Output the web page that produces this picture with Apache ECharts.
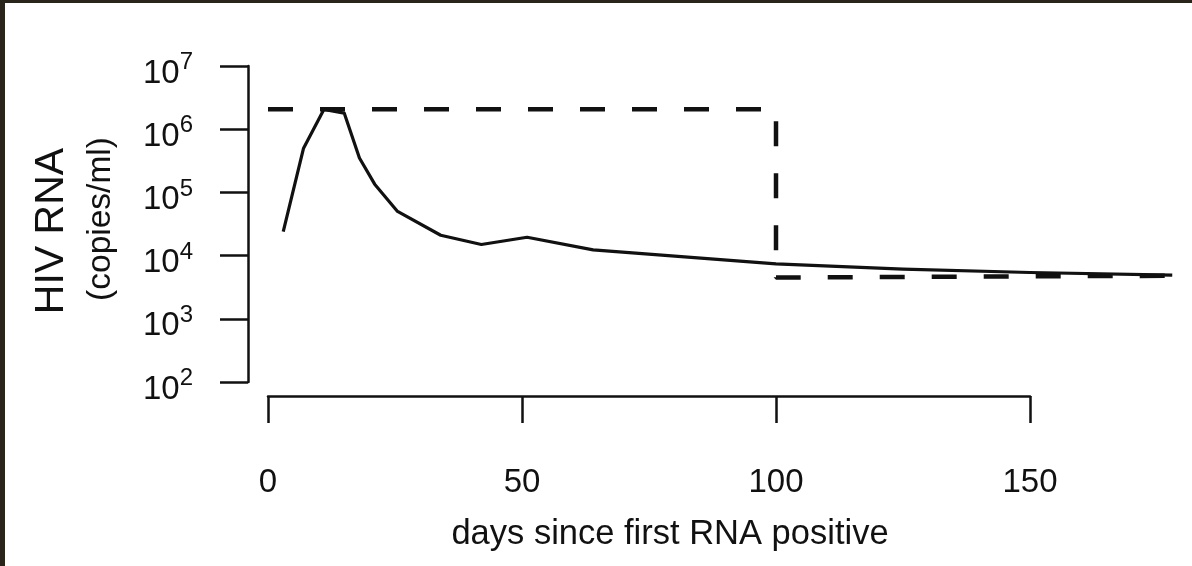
<!DOCTYPE html>
<html>
<head>
<meta charset="utf-8">
<title>HIV RNA</title>
<script src="https://cdn.jsdelivr.net/npm/echarts@6/dist/echarts.min.js"></script>
<style>
  html, body { margin: 0; padding: 0; background: #fff; }
  #chart { width: 1192px; height: 566px; }
</style>
</head>
<body>
<div id="chart"></div>
<script>
// viral load
const days = [3, 7, 11, 15, 18, 21, 25.5, 34, 42, 51, 64, 100, 125, 150, 178]
const rna = [2.4e4, 5.0e5, 2.05e6, 1.8e6, 3.5e5, 1.35e5, 5.0e4, 2.1e4, 1.5e4, 1.95e4, 1.23e4, 7.4e3, 6.1e3, 5.4e3, 4.9e3]

// dashed guide: peak level, then set point
const guideDays = [0, 100, 100, 178]
const guideRna = [2.07e6, 2.07e6, 4.5e3, 4.8e3]

const xTicks = [0, 50, 100, 150]

const FONT = '"Liberation Sans", Arial, Helvetica, sans-serif'
const INK = '#111'
const FRAME = '#29251a'

const pairs = (xs, ys) => xs.map((d, i) => [d, ys[i]])

const chart = echarts.init(document.getElementById('chart'))

const option = {
  animation: false,
  backgroundColor: '#fff',
  textStyle: { fontFamily: FONT },
  grid: [
    // data area, 5.08 px per day
    { left: 268, top: 66, width: 180 * 5.08, height: 316 },
    // just for the short x axis (0..150)
    { left: 268, top: 66, width: 150 * 5.08, height: 316 },
  ],
  xAxis: [
    { gridIndex: 0, type: 'value', min: 0, max: 180, show: false },
    {
      gridIndex: 1,
      type: 'value',
      min: 0,
      max: 150,
      interval: 50,
      offset: 14,
      axisLine: { show: true, onZero: false, lineStyle: { color: INK, width: 2.5 } },
      axisTick: { show: true, length: 27, lineStyle: { color: INK, width: 2.5 } },
      axisLabel: {
        margin: 70,
        fontSize: 33,
        color: INK,
        fontFamily: FONT,
        customValues: xTicks,
      },
      splitLine: { show: false },
    },
  ],
  yAxis: [
    {
      gridIndex: 0,
      type: 'log',
      logBase: 10,
      min: 1e2,
      max: 1e7,
      offset: 20,
      axisLine: { show: true, onZero: false, lineStyle: { color: INK, width: 2.5 } },
      axisTick: { show: true, length: 28, lineStyle: { color: INK, width: 2.5 } },
      axisLabel: {
        margin: 55,
        color: INK,
        fontFamily: FONT,
        formatter: v => '{b|10}{s|' + Math.round(Math.log10(v)) + '}',
        rich: {
          b: { fontSize: 33, lineHeight: 33, padding: [15, 0, 0, 0], fontFamily: FONT, color: INK },
          s: { fontSize: 24, lineHeight: 24, padding: [0, 0, 7, 0], fontFamily: FONT, color: INK },
        },
      },
      splitLine: { show: false },
    },
    { gridIndex: 1, type: 'log', min: 1e2, max: 1e7, show: false },
  ],
  graphic: [
    // dark frame on top and left edge
    { type: 'rect', left: 0, top: 0, shape: { width: 1192, height: 3 }, style: { fill: FRAME }, z: 100 },
    { type: 'rect', left: 0, top: 0, shape: { width: 5, height: 566 }, style: { fill: FRAME }, z: 100 },
    {
      type: 'text', x: 52, y: 231, rotation: Math.PI / 2,
      style: { text: 'HIV RNA', fontSize: 41, fontFamily: FONT, fill: INK, textAlign: 'center', textVerticalAlign: 'middle' },
    },
    {
      type: 'text', x: 101, y: 219, rotation: Math.PI / 2,
      style: { text: '(copies/ml)', fontSize: 33.5, fontFamily: FONT, fill: INK, textAlign: 'center', textVerticalAlign: 'middle' },
    },
    {
      type: 'text', x: 670, y: 534,
      style: { text: 'days since first RNA positive', fontSize: 34.5, fontFamily: FONT, fill: INK, textAlign: 'center', textVerticalAlign: 'middle' },
    },
  ],
  series: [
    {
      name: 'guide',
      type: 'line',
      xAxisIndex: 0,
      yAxisIndex: 0,
      data: pairs(guideDays, guideRna),
      showSymbol: false,
      symbol: 'none',
      lineStyle: { color: INK, width: 4.5, type: [25, 27], cap: 'butt' },
      silent: true,
    },
    {
      name: 'HIV RNA',
      type: 'line',
      xAxisIndex: 0,
      yAxisIndex: 0,
      data: pairs(days, rna),
      showSymbol: false,
      symbol: 'none',
      lineStyle: { color: INK, width: 3.2, join: 'round' },
      silent: true,
    },
  ],
}

chart.setOption(option)
</script>
</body>
</html>
